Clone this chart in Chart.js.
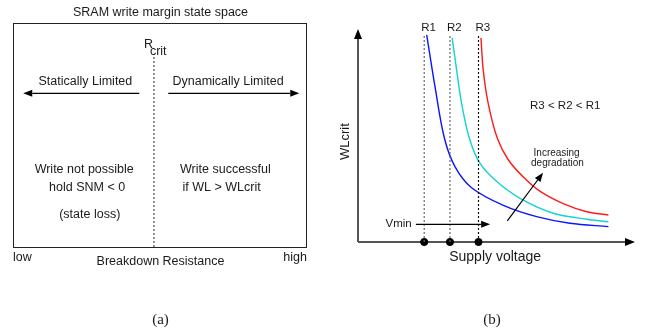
<!DOCTYPE html>
<html>
<head>
<meta charset="utf-8">
<script src="https://cdn.jsdelivr.net/npm/chart.js@4.4.0/dist/chart.umd.min.js"></script>
<style>
  html, body { margin: 0; padding: 0; background: #fff; }
  #wrap { position: relative; width: 646px; height: 335px; overflow: hidden; }
  #stateSpace { position: absolute; left: 0; top: 0; }
  #wlcrit { position: absolute; left: 330px; top: 0; }
</style>
</head>
<body>
<div id="wrap">
  <canvas id="stateSpace" width="330" height="335"></canvas>
  <canvas id="wlcrit" width="316" height="335"></canvas>
</div>
<script>
/* global Chart */

// ---- (a) write margin state space, x = breakdown resistance (0 low .. 1 high)
const rcrit = 0.481;
const rcritTop = 0.85;
const limitArrows = [
  { from: [0.431, 0.686], to: [0.035, 0.686] },
  { from: [0.530, 0.686], to: [0.977, 0.686] }
];
const regionNotes = [
  { text: 'Statically Limited', x: 0.247, y: 0.738 },
  { text: 'Dynamically Limited', x: 0.734, y: 0.738 },
  { text: 'Write not possible', x: 0.243, y: 0.344 },
  { text: 'hold SNM < 0', x: 0.253, y: 0.266 },
  { text: '(state loss)', x: 0.262, y: 0.143 },
  { text: 'Write successful', x: 0.725, y: 0.344 },
  { text: 'if WL > WLcrit', x: 0.712, y: 0.266 }
];

// ---- (b) WLcrit vs supply voltage for three breakdown resistances
const r1Voltage = [0.248, 0.278, 0.312, 0.350, 0.410, 0.525, 0.645, 0.765, 0.904];
const r1WLcrit  = [0.972, 0.729, 0.487, 0.354, 0.255, 0.172, 0.119, 0.088, 0.072];
const r2Voltage = [0.340, 0.356, 0.374, 0.402, 0.440, 0.500, 0.585, 0.705, 0.826, 0.904];
const r2WLcrit  = [0.958, 0.808, 0.651, 0.487, 0.370, 0.285, 0.205, 0.135, 0.107, 0.095];
const r3Voltage = [0.444, 0.452, 0.470, 0.503, 0.543, 0.597, 0.655, 0.741, 0.826, 0.904];
const r3WLcrit  = [0.958, 0.808, 0.651, 0.487, 0.385, 0.305, 0.240, 0.180, 0.142, 0.127];
const resistLabels = ['R1', 'R2', 'R3'];
const vminValues = [0.239, 0.332, 0.435];
const vminTop = 0.97;
const vminArrow = { from: [0.209, 0.083], to: [0.477, 0.083] };
const degradeArrow = { from: [0.539, 0.099], to: [0.668, 0.325] };

const SANS = '"Liberation Sans", Arial, Helvetica, sans-serif';
const SERIF = '"Liberation Serif", "Times New Roman", serif';
const INK = '#1a1a1a';

function toPoints(xs, ys) { return xs.map((x, i) => ({ x, y: ys[i] })); }

function drawArrow(ctx, x0, y0, x1, y1, head, halfW) {
  const a = Math.atan2(y1 - y0, x1 - x0);
  const bx = x1 - head * Math.cos(a);
  const by = y1 - head * Math.sin(a);
  ctx.beginPath();
  ctx.moveTo(x0, y0);
  ctx.lineTo(bx, by);
  ctx.stroke();
  ctx.beginPath();
  ctx.moveTo(x1, y1);
  ctx.lineTo(bx + halfW * Math.sin(a), by - halfW * Math.cos(a));
  ctx.lineTo(bx - halfW * Math.sin(a), by + halfW * Math.cos(a));
  ctx.closePath();
  ctx.fill();
}

function text(ctx, str, x, y, size, align, family) {
  ctx.font = `${size}px ${family || SANS}`;
  ctx.textAlign = align || 'center';
  ctx.textBaseline = 'middle';
  ctx.fillText(str, x, y);
}

const unitScales = {
  x: { type: 'linear', min: 0, max: 1, display: false },
  y: { type: 'linear', min: 0, max: 1, display: false }
};

// frame, arrows and labels for the state space
const stateSpacePlugin = {
  id: 'stateSpace',
  afterDatasetsDraw(chart) {
    const { ctx, chartArea: area, scales: { x, y } } = chart;
    ctx.save();
    ctx.strokeStyle = '#222';
    ctx.lineWidth = 1;
    ctx.strokeRect(area.left + 0.5, area.top + 0.5, area.right - area.left, area.bottom - area.top);

    ctx.strokeStyle = '#000';
    ctx.fillStyle = '#000';
    ctx.lineWidth = 1.3;
    limitArrows.forEach(a => {
      drawArrow(ctx, x.getPixelForValue(a.from[0]), y.getPixelForValue(a.from[1]),
        x.getPixelForValue(a.to[0]), y.getPixelForValue(a.to[1]), 9, 3.5);
    });

    ctx.fillStyle = INK;
    regionNotes.forEach(n => text(ctx, n.text, x.getPixelForValue(n.x), y.getPixelForValue(n.y), 12.5));

    const mid = (area.left + area.right) / 2;
    text(ctx, 'SRAM write margin state space', mid + 1, area.top - 10, 12.5);
    const rx = x.getPixelForValue(rcrit);
    text(ctx, 'R', rx - 10, area.top + 22, 12.5, 'left');
    text(ctx, 'crit', rx - 4, area.top + 28.5, 12.5, 'left');
    text(ctx, 'low', area.left, area.bottom + 11, 12.5, 'left');
    text(ctx, 'high', area.right + 1, area.bottom + 10.5, 12.5, 'right');
    text(ctx, 'Breakdown Resistance', mid + 1, area.bottom + 14.5, 12.5);
    text(ctx, '(a)', mid + 1, area.bottom + 73, 15, 'center', SERIF);
    ctx.restore();
  }
};

new Chart(document.getElementById('stateSpace'), {
  type: 'scatter',
  data: {
    datasets: [{
      data: [{ x: rcrit, y: 0 }, { x: rcrit, y: rcritTop }],
      showLine: true,
      borderColor: '#777',
      borderWidth: 1.6,
      borderDash: [2, 2],
      pointRadius: 0
    }]
  },
  options: {
    responsive: false,
    animation: false,
    events: [],
    layout: { padding: { left: 13, top: 23, right: 24, bottom: 88 } },
    scales: unitScales,
    plugins: { legend: { display: false }, tooltip: { enabled: false } }
  },
  plugins: [stateSpacePlugin]
});

// axes with arrowheads, drawn under the curves
const wlAxesPlugin = {
  id: 'wlAxes',
  beforeDatasetsDraw(chart) {
    const { ctx, chartArea: area } = chart;
    ctx.save();
    ctx.strokeStyle = '#555';
    ctx.fillStyle = '#000';
    ctx.lineWidth = 2;
    drawArrow(ctx, area.left, area.bottom, area.left, area.top, 10, 4);
    drawArrow(ctx, area.left, area.bottom, area.right, area.bottom, 10, 4);
    ctx.restore();
  },
  afterDatasetsDraw(chart) {
    const { ctx, scales: { x, y } } = chart;
    ctx.save();
    ctx.strokeStyle = '#000';
    ctx.fillStyle = '#000';
    ctx.lineWidth = 1.2;
    [vminArrow, degradeArrow].forEach(a => {
      drawArrow(ctx, x.getPixelForValue(a.from[0]), y.getPixelForValue(a.from[1]),
        x.getPixelForValue(a.to[0]), y.getPixelForValue(a.to[1]), 9, 3.5);
    });

    ctx.fillStyle = INK;
    resistLabels.forEach((r, i) => text(ctx, r, x.getPixelForValue(vminValues[i]) - 3, y.getPixelForValue(1.007), 11.5, 'left'));
    text(ctx, 'Vmin', x.getPixelForValue(0.194), y.getPixelForValue(0.085), 11.5, 'right');
    text(ctx, 'R3 < R2 < R1', x.getPixelForValue(0.748), y.getPixelForValue(0.638), 11.5);
    text(ctx, 'Increasing', x.getPixelForValue(0.717), y.getPixelForValue(0.418), 10);
    text(ctx, 'degradation', x.getPixelForValue(0.72), y.getPixelForValue(0.371), 10);
    text(ctx, 'Supply voltage', x.getPixelForValue(0.495), y.getPixelForValue(-0.072), 14);

    ctx.save();
    ctx.translate(x.getPixelForValue(-0.047), y.getPixelForValue(0.471));
    ctx.rotate(-Math.PI / 2);
    text(ctx, 'WLcrit', 0, 0, 13);
    ctx.restore();

    text(ctx, '(b)', x.getPixelForValue(0.484), y.getPixelForValue(-0.366), 15, 'center', SERIF);
    ctx.restore();
  }
};

const curveStyle = { showLine: true, pointRadius: 0, borderWidth: 1.4, tension: 0.35 };
const guideColors = ['#666', '#666', '#111'];

new Chart(document.getElementById('wlcrit'), {
  type: 'scatter',
  data: {
    datasets: [
      ...vminValues.map((v, i) => ({
        data: [{ x: v, y: 0 }, { x: v, y: vminTop }],
        showLine: true,
        pointRadius: 0,
        borderWidth: 1.2,
        borderDash: [2, 2],
        borderColor: guideColors[i]
      })),
      { ...curveStyle, data: toPoints(r1Voltage, r1WLcrit), borderColor: '#0a14ff' },
      { ...curveStyle, data: toPoints(r2Voltage, r2WLcrit), borderColor: '#12d2d2' },
      { ...curveStyle, data: toPoints(r3Voltage, r3WLcrit), borderColor: '#ff1a1a' },
      {
        data: vminValues.map(v => ({ x: v, y: 0 })),
        pointRadius: 3.6,
        backgroundColor: '#000',
        borderColor: '#000',
        clip: false
      }
    ]
  },
  options: {
    responsive: false,
    animation: false,
    events: [],
    layout: { padding: { left: 28, top: 29, right: 11, bottom: 93 } },
    scales: unitScales,
    plugins: { legend: { display: false }, tooltip: { enabled: false } }
  },
  plugins: [wlAxesPlugin]
});
</script>
</body>
</html>
